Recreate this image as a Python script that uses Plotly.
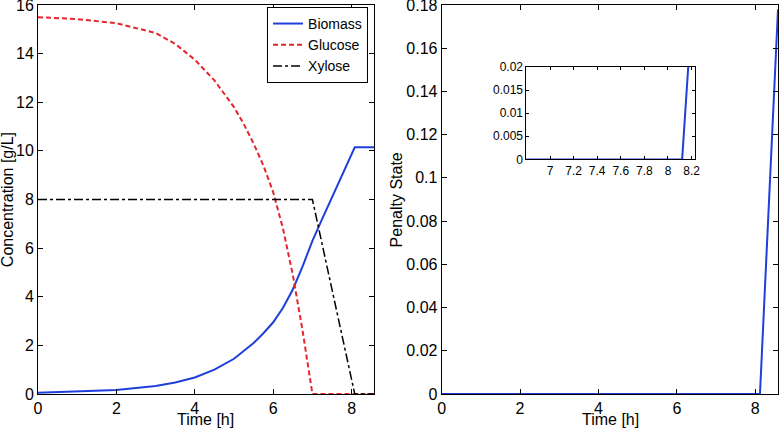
import plotly.graph_objects as go

# Left panel: concentrations over time
t_bio = [0, 1, 2, 3, 3.5, 4, 4.5, 5, 5.5, 5.75, 6, 6.25, 6.5, 6.75, 6.9, 7, 7.25, 7.5, 7.75, 8, 8.08, 8.58]
biomass = [0.05, 0.09, 0.16, 0.33, 0.47, 0.68, 1.0, 1.45, 2.1, 2.5, 2.95, 3.55, 4.3, 5.25, 5.85, 6.3, 7.2, 8.08, 8.97, 9.86, 10.15, 10.15]

t_glc = [0, 1, 2, 3, 3.5, 4, 4.5, 5, 5.25, 5.5, 5.75, 6, 6.25, 6.5, 6.75, 6.9, 7, 8.58]
glucose = [15.5, 15.42, 15.25, 14.85, 14.4, 13.75, 12.9, 11.8, 11.1, 10.3, 9.4, 8.3, 6.8, 4.9, 2.6, 1.1, 0, 0]

t_xyl = [0, 7.0, 8.08, 8.58]
xylose = [8, 8, 0, 0]

# Right panel: penalty state
t_pen = [0, 8.12, 8.58]
penalty = [0, 0, 0.178]

BLUE = '#1f3fdc'
RED = '#e3262b'
FONT = 'Liberation Sans, Arial, sans-serif'

fig = go.Figure()
fig.add_trace(go.Scatter(x=t_bio, y=biomass, name='Biomass', mode='lines',
                         line=dict(color=BLUE, width=2), xaxis='x', yaxis='y'))
fig.add_trace(go.Scatter(x=t_glc, y=glucose, name='Glucose', mode='lines',
                         line=dict(color=RED, width=2, dash='5px,3px'), xaxis='x', yaxis='y'))
fig.add_trace(go.Scatter(x=t_xyl, y=xylose, name='Xylose', mode='lines',
                         line=dict(color='black', width=1.5, dash='dashdot'), xaxis='x', yaxis='y'))
fig.add_trace(go.Scatter(x=t_pen, y=penalty, mode='lines', showlegend=False,
                         line=dict(color=BLUE, width=2), xaxis='x2', yaxis='y2'))
fig.add_trace(go.Scatter(x=t_pen, y=penalty, mode='lines', showlegend=False,
                         line=dict(color=BLUE, width=2), xaxis='x3', yaxis='y3'))

ax = dict(showline=True, linecolor='black', linewidth=1, mirror='ticks', ticks='inside',
          ticklen=5, tickcolor='black', showgrid=False, zeroline=False, automargin=False,
          ticklabeloverflow='allow', tickfont=dict(size=16, color='black'))

title_font = dict(size=16, color='black')

fig.update_layout(
    template='none',
    width=779, height=428,
    margin=dict(l=38, r=1, t=5, b=34, autoexpand=False),
    font=dict(family=FONT, color='black'),
    paper_bgcolor='white', plot_bgcolor='white',
    xaxis=dict(ax, domain=[0, 0.454], range=[0, 8.57], tickvals=[0, 2, 4, 6, 8]),
    yaxis=dict(ax, domain=[0, 1], range=[0, 16], tickvals=list(range(0, 17, 2))),
    xaxis2=dict(ax, domain=[0.5455, 1], range=[0, 8.58], tickvals=[0, 2, 4, 6, 8], anchor='y2'),
    yaxis2=dict(ax, domain=[0, 1], range=[0, 0.18], anchor='x2',
                tickvals=[0, 0.02, 0.04, 0.06, 0.08, 0.1, 0.12, 0.14, 0.16, 0.18],
                ticktext=['0', '0.02', '0.04', '0.06', '0.08', '0.1', '0.12', '0.14', '0.16', '0.18']),
    xaxis3=dict(ax, domain=[0.660, 0.888], range=[6.8, 8.23], anchor='y3', ticklen=3,
                tickvals=[7, 7.2, 7.4, 7.6, 7.8, 8, 8.2], tickfont=dict(size=12, color='black')),
    yaxis3=dict(ax, domain=[0.603, 0.841], range=[0, 0.02], anchor='x3', ticklen=3,
                tickvals=[0, 0.005, 0.01, 0.015, 0.02],
                ticktext=['0', '0.005', '0.01', '0.015', '0.02'],
                tickfont=dict(size=12, color='black')),
    legend=dict(x=0.446, xanchor='right', y=0.995, yanchor='top',
                bgcolor='white', bordercolor='black', borderwidth=1,
                font=dict(size=14), tracegroupgap=0, itemwidth=30),
    showlegend=True,
    annotations=[
        dict(text='Time [h]', xref='paper', yref='paper', x=0.227, y=-0.066,
             xanchor='center', yanchor='middle', showarrow=False, font=title_font),
        dict(text='Time [h]', xref='paper', yref='paper', x=0.773, y=-0.066,
             xanchor='center', yanchor='middle', showarrow=False, font=title_font),
        dict(text='Concentration [g/L]', xref='paper', yref='paper', x=-0.041, y=0.5,
             xanchor='center', yanchor='middle', textangle=-90, showarrow=False, font=title_font),
        dict(text='Penalty State', xref='paper', yref='paper', x=0.485, y=0.5,
             xanchor='center', yanchor='middle', textangle=-90, showarrow=False, font=title_font),
    ],
)

fig.write_html('out.html', config={'displayModeBar': False},
               post_script="document.body.style.margin='0';document.body.style.overflow='hidden';")
